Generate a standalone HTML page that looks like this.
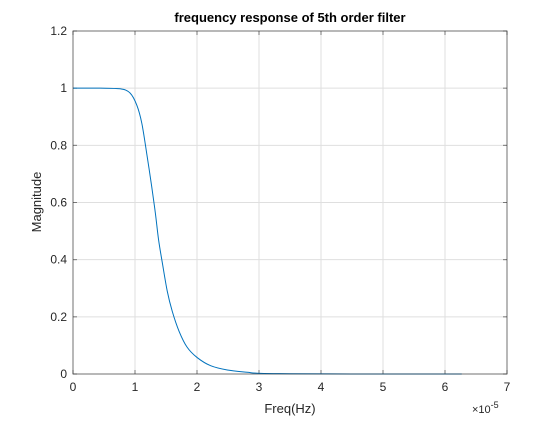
<!DOCTYPE html>
<html><head><meta charset="utf-8"><style>
body{margin:0;background:#fff}
svg text{font-family:"Liberation Sans",sans-serif}
</style></head><body>
<svg id="chart" width="560" height="420">
<rect x="0" y="0" width="560" height="420" fill="#fff"/>
<g id="grid"></g>
<g id="ticks"></g>
<path id="curve" fill="none" stroke="#0072bd" stroke-width="1"/>
<rect x="73" y="31" width="434" height="343" fill="none" stroke="#262626" stroke-opacity="0.6" stroke-width="1"/>
<text x="290" y="22" text-anchor="middle" font-size="13" font-weight="bold" fill="#000">frequency response of 5th order filter</text>
<text x="290" y="413" text-anchor="middle" font-size="13" fill="#262626">Freq(Hz)</text>
<text transform="translate(41,202) rotate(-90)" text-anchor="middle" font-size="13" fill="#262626">Magnitude</text>
<text x="472" y="413" font-size="11" fill="#262626">×10<tspan dy="-5" font-size="9">-5</tspan></text>
</svg>
<script>
const xTicks=[0,1,2,3,4,5,6,7];
const yTicks=[0,0.2,0.4,0.6,0.8,1,1.2];
const yTickLabels=["0","0.2","0.4","0.6","0.8","1","1.2"];
const freq=[0,0.44,0.76,0.92,1.03,1.11,1.19,1.27,1.33,1.38,1.44,1.52,1.60,1.71,1.84,2.0,2.22,2.49,2.81,3.03,3.5,4.5,5.5,6.27];
const mag=[1,1,0.998,0.983,0.94,0.877,0.77,0.655,0.56,0.47,0.39,0.29,0.22,0.15,0.094,0.058,0.029,0.014,0.006,0.002,0.001,0,0,0];
const L=73,R=507,T=31,B=374;
const xs=v=>L+(v-0)/(7-0)*(R-L);
const ys=v=>B-(v-0)/(1.2-0)*(B-T);
const NS="http://www.w3.org/2000/svg";
const grid=document.getElementById('grid'),ticks=document.getElementById('ticks');
function mk(tag,attrs,parent){const e=document.createElementNS(NS,tag);for(const k in attrs)e.setAttribute(k,attrs[k]);parent.appendChild(e);return e;}
xTicks.forEach(v=>{
  const x=xs(v);
  const g=mk('line',{x1:x,x2:x,y1:T,y2:B,stroke:'#dfdfdf','stroke-width':1},grid);
  
  
  const t1=mk('line',{x1:x,x2:x,y1:B,y2:B-4,stroke:'#777'},ticks);
  
  
  const t2=mk('line',{x1:x,x2:x,y1:T,y2:T+4,stroke:'#777'},ticks);
  
  
  const lb=mk('text',{x:x,y:B+17,'text-anchor':'middle','font-size':12,fill:'#262626'},ticks);
  lb.textContent=String(v);
  
  
});
yTicks.forEach((v,i)=>{
  const y=ys(v);
  const g=mk('line',{x1:L,x2:R,y1:y,y2:y,stroke:'#dfdfdf','stroke-width':1},grid);
  
  
  const t1=mk('line',{x1:L,x2:L+4,y1:y,y2:y,stroke:'#777'},ticks);
  
  
  const t2=mk('line',{x1:R,x2:R-4,y1:y,y2:y,stroke:'#777'},ticks);
  
  
  const lb=mk('text',{x:L-6,y:y+4,'text-anchor':'end','font-size':12,fill:'#262626'},ticks);
  lb.textContent=yTickLabels[i];
  
  
});
// smooth Catmull-Rom path through data points
const P=freq.map((f,i)=>[xs(f),ys(mag[i])]);
let d='M'+P[0][0].toFixed(2)+','+P[0][1].toFixed(2);
for(let i=0;i<P.length-1;i++){
  const p0=P[Math.max(i-1,0)],p1=P[i],p2=P[i+1],p3=P[Math.min(i+2,P.length-1)];
  const c1=[p1[0]+(p2[0]-p0[0])/6,p1[1]+(p2[1]-p0[1])/6];
  const c2=[p2[0]-(p3[0]-p1[0])/6,p2[1]-(p3[1]-p1[1])/6];
  c1[1]=Math.min(Math.max(c1[1],Math.min(p1[1],p2[1])),Math.max(p1[1],p2[1]));
  c2[1]=Math.min(Math.max(c2[1],Math.min(p1[1],p2[1])),Math.max(p1[1],p2[1]));
  d+=' C'+c1.map(v=>v.toFixed(2)).join(',')+' '+c2.map(v=>v.toFixed(2)).join(',')+' '+p2.map(v=>v.toFixed(2)).join(',');
}
document.getElementById('curve').setAttribute('d',d);
</script>
</body></html>
